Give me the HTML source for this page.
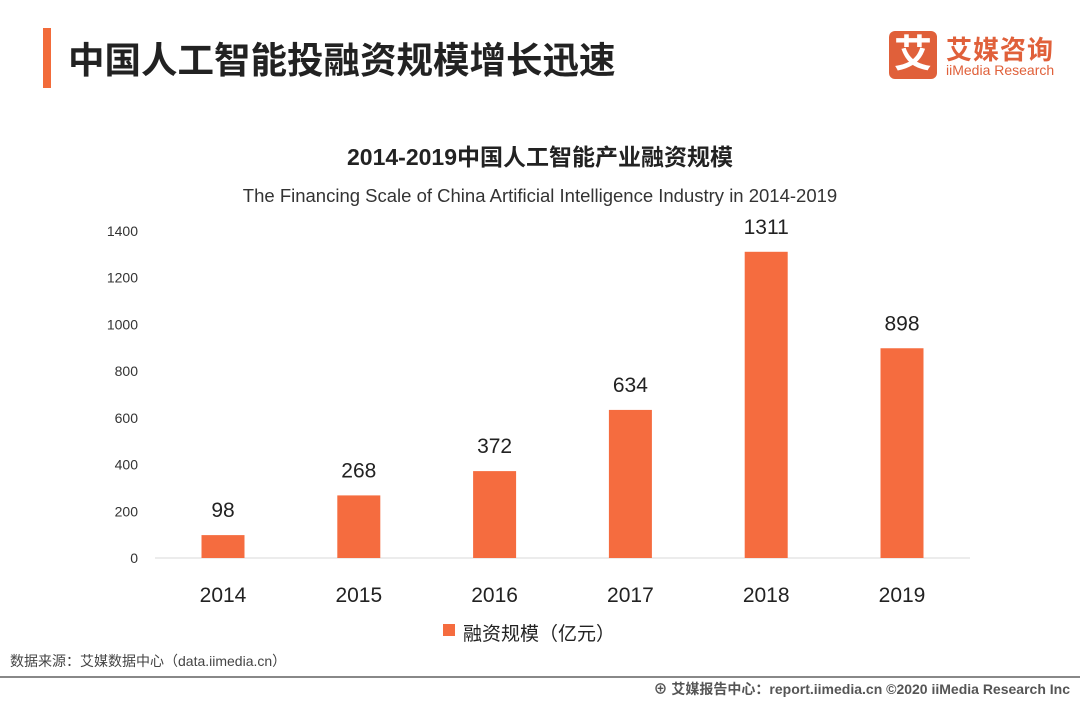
<!DOCTYPE html>
<html><head><meta charset="utf-8"><style>
body{margin:0;width:1080px;height:702px;background:#fff;position:relative;overflow:hidden;font-family:"Liberation Sans","Noto Sans CJK SC",sans-serif;}
.abs{position:absolute;}
</style></head><body>
<div class="abs" style="left:43px;top:28px;width:8px;height:60px;background:#f26b3a"></div>
<div class="abs" style="left:68px;top:31px;font-size:36.5px;font-weight:bold;color:#222;font-family:'Liberation Sans','Noto Sans CJK SC',sans-serif">中国人工智能投融资规模增长迅速</div>
<div class="abs" style="left:889px;top:31px;width:48px;height:48px;background:#e0603a;border-radius:6px;color:#fff;font-size:38px;font-weight:bold;text-align:center;line-height:48px">艾</div>
<div class="abs" style="left:946px;top:30px;font-size:26px;font-weight:bold;color:#e0603a;letter-spacing:1px">艾媒咨询</div>
<div class="abs" style="left:946px;top:62px;font-size:14px;color:#e0603a">iiMedia Research</div>
<svg class="abs" style="left:0;top:0" width="1080" height="702">
<text x="540" y="165" text-anchor="middle" font-size="23" font-weight="bold" fill="#222">2014-2019中国人工智能产业融资规模</text>
<text x="540" y="202" text-anchor="middle" font-size="18.5" fill="#333">The Financing Scale of China Artificial Intelligence Industry  in 2014-2019</text>
<line x1="155" y1="558" x2="970" y2="558" stroke="#d9d9d9"/>
<g id="yt"></g><g id="bars"></g>
<rect x="443" y="624" width="12" height="12" fill="#f56c3f"/>
<text x="463" y="640" font-size="19" fill="#222">融资规模（亿元）</text>
<text x="10" y="666" font-size="14" fill="#444">数据来源：艾媒数据中心（data.iimedia.cn）</text>
<line x1="0" y1="677" x2="1080" y2="677" stroke="#888" stroke-width="2"/>
<text x="1070" y="694" text-anchor="end" font-size="14" font-weight="bold" fill="#555">⊕ 艾媒报告中心：report.iimedia.cn  ©2020  iiMedia Research  Inc</text>
</svg>
<script>
const categories=["2014","2015","2016","2017","2018","2019"];
const values=[98,268,372,634,1311,898];
const yTicks=[0,200,400,600,800,1000,1200,1400];
const NS="http://www.w3.org/2000/svg";
const y=v=>558-v*(327/1400);
const x=i=>223+i*135.8;
const yt=document.getElementById('yt'),bars=document.getElementById('bars');
function mk(tag,attrs,txt){const e=document.createElementNS(NS,tag);for(const k in attrs)e.setAttribute(k,attrs[k]);if(txt!=null)e.textContent=txt;return e;}
yTicks.forEach(t=>{const e=mk('text',{x:138,y:y(t)+5,'text-anchor':'end','font-size':14,fill:'#333'},t);


yt.appendChild(e);});
categories.forEach((c,i)=>{
const r=mk('rect',{x:x(i)-21.5,y:y(values[i]),width:43,height:558-y(values[i]),fill:'#f56c3f'});


bars.appendChild(r);
const v=mk('text',{x:x(i),y:y(values[i])-18,'text-anchor':'middle','font-size':21,fill:'#222'},values[i]);


bars.appendChild(v);
const l=mk('text',{x:x(i),y:602,'text-anchor':'middle','font-size':21,fill:'#222'},c);


bars.appendChild(l);});
</script>
</body></html>
